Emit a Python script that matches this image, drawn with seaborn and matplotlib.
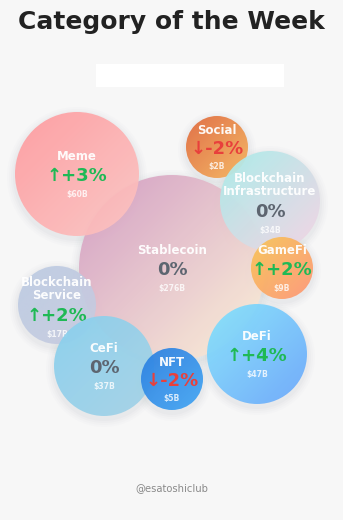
import numpy as np
import pandas as pd
import matplotlib
matplotlib.use("Agg")
import matplotlib.pyplot as plt
import seaborn as sns
from matplotlib.patches import Circle, Rectangle
from matplotlib.colors import to_rgb

# ---- data ----
categories = ["Stablecoin", "Meme", "Social", "Blockchain\nInfrastructure", "GameFi",
              "Blockchain\nService", "CeFi", "NFT", "DeFi"]
market_cap_b = [276, 60, 2, 34, 9, 17, 37, 5, 47]
weekly_change = [0, 3, -2, 0, 2, 2, 0, -2, 4]

# ---- layout (pixel coordinates of packed bubbles) ----
cx = [172, 77, 217, 270, 282, 57, 104, 172, 257]
cy = [268, 174, 147, 201, 268, 305, 366, 379, 354]
radius = [93, 62, 31, 50, 31, 39, 50, 31, 50]
grad_start = ["#d299c2", "#ff9a9e", "#e0683c", "#a8edea", "#f8c555", "#bccbe3",
              "#88d0ee", "#2a7ee0", "#84e4fc"]
grad_end = ["#fef3d7", "#fcc6c4", "#f6b55c", "#f4d3e4", "#ff9575", "#c8cbe0",
            "#a4d2e6", "#42a6f4", "#6aa6fc"]

W, H = 343, 520
BG = "#f7f7f7"
sns.set_theme(style="white")
plt.rcParams["font.family"] = ["DejaVu Sans"]

fig = plt.figure(figsize=(W / 100, H / 100), dpi=100, facecolor=BG)
ax = fig.add_axes([0, 0, 1, 1])
ax.set_facecolor(BG)

df = pd.DataFrame({"category": categories, "cap": market_cap_b, "change": weekly_change,
                   "x": cx, "y": cy, "r": radius})

# soft shadows
for grow, alpha in [(8, 0.025), (6, 0.03), (4, 0.04), (2, 0.05)]:
    sizes = (1.44 * (df["r"] + grow)) ** 2
    sns.scatterplot(data=df.assign(y=df["y"] + 3), x="x", y="y", s=sizes, color="#9aa0a8",
                    alpha=alpha, linewidth=0, legend=False, ax=ax, zorder=1)

GREEN = "#1fb955"
RED = "#e8403c"
GRAY = "#5d6570"

for i, row in df.iterrows():
    x0, y0, r = row["x"], row["y"], row["r"]
    n = 120
    gx, gy = np.meshgrid(np.linspace(0, 1, n), np.linspace(0, 1, n))
    t = (gx + gy) / 2.0
    c1 = np.array(to_rgb(grad_start[i]))
    c2 = np.array(to_rgb(grad_end[i]))
    img = np.zeros((n, n, 4))
    img[..., :3] = c1 * (1 - t[..., None]) + c2 * t[..., None]
    img[..., 3] = 0.93
    z = 2 + i * 2
    im = ax.imshow(img, extent=(x0 - r, x0 + r, y0 + r, y0 - r), origin="upper",
                   interpolation="bilinear", zorder=z, aspect="auto")
    clip = Circle((x0, y0), r, transform=ax.transData)
    im.set_clip_path(clip)

    name = row["category"]
    two = "\n" in name
    if two:
        ny, py, vy = y0 - 16, y0 + 11, y0 + 29
    else:
        ny, py, vy = y0 - 17, y0 + 2, y0 + 20
    ax.text(x0, ny, name, ha="center", va="center", fontsize=8.5, fontweight="bold",
            color="white", alpha=0.95, linespacing=1.05, zorder=z + 1)
    ch = row["change"]
    if ch > 0:
        pct, col = f"↑+{ch}%", GREEN
    elif ch < 0:
        pct, col = f"↓{ch}%", RED
    else:
        pct, col = "0%", GRAY
    ax.text(x0, py, pct, ha="center", va="center", fontsize=13, fontweight="bold",
            color=col, zorder=z + 1)
    ax.text(x0, vy, f"${row['cap']}B", ha="center", va="center", fontsize=5.5,
            fontweight="bold", color="white", alpha=0.8, zorder=z + 1)

# title, blank banner and watermark
ax.text(W / 2, 22, "Category of the Week", ha="center", va="center", fontsize=18,
        fontweight="bold", color="#222222", zorder=30)
ax.add_patch(Rectangle((96, 64), 188, 23, facecolor="white", edgecolor="none", zorder=30))
ax.text(W / 2, 488, "@esatoshiclub", ha="center", va="center", fontsize=7.2,
        color="#8a8a8a", zorder=30)

ax.set_xlim(0, W)
ax.set_ylim(H, 0)
ax.axis("off")
fig.savefig("out.png", dpi=100, facecolor=BG)
